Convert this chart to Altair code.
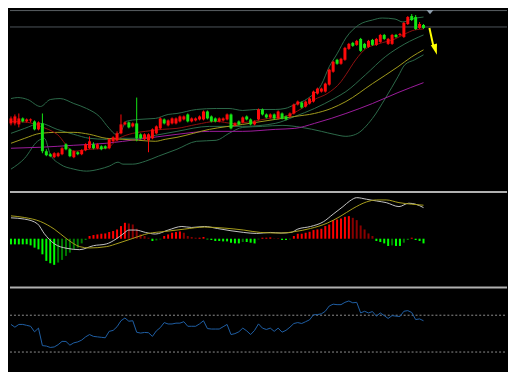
import altair as alt
import pandas as pd

# ---------------- data ----------------
opens = [78, 78, 77, 83, 80, 81, 80, 72, 78, 50, 47, 44, 45, 47, 57, 52, 44, 49, 47, 51,
         53, 57, 53, 55, 55, 53, 60, 61, 68, 77, 79, 75, 78, 67, 62, 61, 63, 68, 73, 82,
         76, 78, 78, 80, 82, 87, 80, 81, 82, 82, 90, 85, 83, 80, 81, 82, 87, 76, 80, 79,
         85, 82, 77, 82, 92, 87, 84, 87, 83, 88, 85, 85, 88, 97, 99, 95, 98, 100, 108, 110,
         110, 117, 130, 142, 138, 142, 153, 159, 157, 163, 158, 155, 162, 157, 160, 167, 158, 158, 167, 167,
         165, 178, 186, 185, 174, 177]
closes = [83, 85, 83, 80, 82, 82, 72, 79, 50, 46, 45, 48, 48, 53, 52, 45, 50, 47, 51, 57,
          60, 53, 57, 52, 53, 62, 64, 68, 77, 79, 74, 78, 63, 63, 67, 67, 72, 75, 83, 78,
          81, 83, 83, 85, 85, 80, 83, 83, 85, 90, 83, 80, 80, 83, 83, 87, 73, 78, 77, 84,
          82, 77, 80, 92, 87, 84, 87, 83, 90, 83, 82, 88, 97, 100, 94, 100, 103, 110, 113, 113,
          118, 132, 140, 138, 143, 154, 158, 156, 161, 151, 154, 161, 157, 163, 167, 163, 163, 167, 165, 168,
          179, 185, 182, 173, 178, 174]
highs = [85, 87, 88, 84, 83, 83, 81, 80, 88, 52, 48, 49, 49, 54, 58, 53, 51, 50, 52, 58,
         65, 59, 58, 56, 56, 63, 65, 70, 87, 80, 80, 79, 104, 68, 68, 68, 73, 76, 84, 83,
         82, 84, 84, 86, 86, 88, 84, 84, 86, 91, 91, 86, 84, 84, 84, 88, 88, 79, 81, 85,
         86, 83, 81, 93, 93, 88, 88, 88, 91, 89, 86, 89, 98, 101, 100, 101, 104, 111, 114, 114,
         119, 133, 141, 143, 144, 155, 159, 160, 162, 164, 159, 162, 163, 164, 168, 168, 164, 168, 168, 169,
         180, 186, 188, 187, 180, 178]
lows = [76, 76, 74, 79, 79, 79, 71, 71, 48, 45, 44, 43, 44, 46, 51, 44, 43, 46, 46, 50,
        52, 52, 52, 51, 52, 52, 59, 60, 67, 76, 73, 74, 60, 62, 61, 49, 62, 67, 72, 77,
        75, 77, 77, 79, 81, 79, 79, 80, 81, 81, 82, 79, 79, 79, 80, 81, 72, 75, 76, 78,
        81, 76, 76, 81, 86, 83, 83, 82, 82, 82, 81, 84, 87, 96, 93, 94, 97, 99, 107, 109,
        109, 116, 129, 137, 137, 141, 152, 155, 156, 150, 153, 154, 156, 156, 159, 162, 157, 157, 164, 166,
        164, 177, 181, 172, 173, 173]

bb_upper_i = [0, 1.75, 4.25, 7.5, 10, 12.5, 16, 19.25, 22.5, 25, 26.75, 28, 29.25, 32.5, 36.75, 40, 42.25,
              47.25, 52.25, 55.5, 59, 62.25, 67.25, 69.75, 72.25, 75.5, 79, 81, 83, 85.25, 88.5, 92, 94.5,
              97.75, 99.75, 102, 105]
bb_upper_v = [103, 104, 102, 95, 102, 103, 98, 93, 85, 73, 67, 70, 80, 82, 83, 87, 88,
              92, 93, 93, 91, 92, 92, 93, 97, 103, 117, 135, 148, 164, 177, 182, 184,
              183, 180, 183, 185]
bb_mid_i = [0, 3.5, 7.5, 11.75, 16, 20, 24.25, 26.75, 32.5, 36.75, 42.25, 50.5, 59, 67.25, 72.25, 77.25,
            82.25, 85.25, 90.25, 95.25, 100.25, 105]
bb_mid_v = [68, 73, 78, 72, 67, 63, 62, 63, 63, 66, 70, 75, 75, 78, 85, 93,
            103, 110, 127, 145, 158, 167]
bb_low_i = [0, 3.5, 6.75, 8.5, 10, 12.5, 16, 19.25, 22.5, 25, 27.25, 28.5, 31, 34.25, 37.5, 42.25, 47.25,
            52.25, 55.5, 59, 64, 69, 74, 79, 82.25, 85.25, 87.75, 92, 95.25, 98.5, 100.25, 102.75, 105]
bb_low_v = [32, 43, 60, 63, 47, 37, 32, 30, 32, 35, 39, 37, 37, 40, 45, 52, 60,
            61, 68, 74, 75, 76, 74, 70, 67, 65, 67, 83, 103, 125, 137, 142, 147]
ma_red_i = [0, 4.25, 7.5, 11.75, 16, 20, 24.25, 27.5, 31, 34.25, 38.5, 42.25, 47.25, 52.25, 56.5, 61.5,
            65.5, 69.75, 74, 77.25, 80.5, 84, 85.25, 87.75, 90.25, 93.5, 97.75, 100.25, 102.75, 105]
ma_red_v = [80, 79, 75, 67, 50, 52, 53, 63, 68, 70, 72, 73, 77, 80, 78, 80,
            83, 85, 93, 102, 108, 120, 127, 142, 153, 158, 163, 168, 172, 173]
ma_yel_i = [0, 3.5, 7.5, 11.75, 16, 20, 24.25, 28.5, 32.5, 36.75, 39.25, 42.25, 50.5, 59, 67.25, 72.25,
            77.25, 81.5, 85.25, 92, 98.5, 102, 105]
ma_yel_v = [58, 63, 68, 69, 69, 67, 63, 62, 61, 60, 62, 64, 72, 77, 82, 85,
            88, 93, 100, 118, 135, 145, 152]
ma_mag_i = [0, 7.5, 16, 24.25, 32.5, 42.25, 50.5, 59, 67.25, 72.25, 77.25, 81.5, 85.25, 92, 98.5, 105]
ma_mag_v = [53, 54, 56, 58, 62, 67, 70, 70, 72, 73, 78, 83, 88, 98, 109, 119]

price_line = 175

macd_hist = [-5.7, -5.7, -5.7, -5.7, -5.7, -6.7, -9, -10.7, -15.7, -22.3, -24.7, -26.3, -24, -21.3, -17.3, -14, -10.7, -9, -4.7, -1.3,
             2.7, 3.7, 4.3, 5, 5.3, 6.7, 7.7, 9.3, 12.7, 16, 15.3, 14.3, 10, 4.3, 2.7, 1, -2.3, -1.7, -0.7, 2.7,
             4.3, 6, 6.7, 7.3, 6, 2.7, 1.7, 1, 1, 1.7, -0.7, -1.3, -2.3, -2.3, -2.7, -2.7, -4, -4.7, -4.7, -3.3,
             -3.3, -4, -4.7, -0.7, 1, 1, 1.3, 0.3, 0.3, -1.3, -1.3, -0.7, 2.7, 5, 5, 6, 7, 8.7, 9.3, 10,
             12.7, 14.3, 18.7, 19.3, 20.3, 22, 22.7, 21, 18.7, 13.3, 9.3, 5.3, 2.7, -2.3, -3.3, -4.7, -7.3, -6.7, -7.3, -7.3,
             -4, -1.3, 1, -1.3, -2.3, -4.7]
macd_i = [0, 3.5, 6.75, 8.5, 11, 14.25, 17.5, 21, 24.25, 26.75, 28.5, 30, 31.75, 34.25, 36.75, 40, 43.5,
          46, 49.25, 52.5, 56, 59.25, 62.5, 66, 68.75, 71.25, 73, 76.25, 79.5, 82, 84.5, 86.25, 88,
          90.5, 93, 95.5, 98.75, 101.25, 103, 105]
macd_v = [21, 19.7, 15, 5, -5, -9.7, -11, -7, -5.3, -0.3, 4.7, 8.7, 8.7, 6.3, 4.7, 8.7, 12.3,
          11.3, 12.3, 10.3, 8, 6.3, 5.3, 6.3, 5.7, 6.3, 9.7, 12.3, 17, 24.7, 32.3, 38, 41.3,
          39.7, 38, 36.3, 32.3, 35.7, 34.7, 31.3]
signal_i = [0, 3.5, 7.5, 11, 14.25, 17.5, 20, 24.25, 27.5, 31, 35, 39.25, 44.25, 49.25, 54.25, 59.25,
            63.5, 68.75, 72, 76.25, 80.5, 83.75, 87, 90.5, 93, 95.5, 98.75, 102, 105]
signal_v = [23, 21.3, 17.3, 9.7, -0.3, -8, -9.3, -8, -4.3, 0.3, 5.3, 7.3, 9.7, 11.7, 10.7, 8.7,
            6.3, 5.7, 7, 10.3, 15.7, 22.3, 30.3, 37, 39, 39, 36.3, 34.7, 33.7]

rsi = [60, 57, 60, 60, 59, 58, 52, 56, 37, 36.5, 35, 35.5, 38, 41.6, 41.5, 37.5, 40, 41, 43, 46.5,
       49, 47, 46.5, 46, 45.5, 52.5, 53.5, 57.5, 64, 67, 63.5, 64, 51.5, 50.6, 51.3, 51, 47, 53, 56.5, 62,
       60.5, 60.5, 61.4, 61.4, 63, 58, 58, 58, 60.6, 64, 55.5, 55, 55, 55, 57.5, 60, 49, 50, 52, 56,
       53, 49, 53.5, 60.6, 56, 54.5, 56, 52.5, 56, 51.6, 53.6, 57, 61, 62, 61, 63, 65, 70.5, 70.7, 71.5,
       74.3, 80, 82, 81.5, 81.5, 84, 85.5, 83.5, 84, 72.5, 74.3, 72.5, 74, 69, 72.5, 69.6, 66.5, 69.6, 69, 68.6,
       74.3, 75, 73, 65.3, 66, 64]
rsi_levels = [70, 30]

# arrow (index, price) and marker
arrow_i, arrow_p, arrow_i2, arrow_p2 = [106.5], [174], [107.5], [156]
head_i, head_p = [108.0], [152.5]
mark_i, mark_p = [106.65], [190]

# ---------------- styling ----------------
W = 500
RED, GREEN = "#ff0a0a", "#14e614"
XS = alt.Scale(domain=[-0.25, 126.25], nice=False, zero=False, padding=0)
YM = alt.Scale(domain=[10, 192], nice=False, zero=False, padding=0)
YD = alt.Scale(domain=[-48, 48], nice=False, zero=False, padding=0)
YR = alt.Scale(domain=[9.5, 101.3], nice=False, zero=False, padding=0)

n = len(opens)
cdf = pd.DataFrame({"i": list(range(n)), "open": opens, "close": closes, "high": highs, "low": lows})
cdf["lo"] = cdf[["open", "close"]].min(axis=1)
cdf["hi"] = cdf[["open", "close"]].max(axis=1)

frames = []
for name, xs, vs in [("bb_up", bb_upper_i, bb_upper_v), ("bb_mid", bb_mid_i, bb_mid_v),
                     ("bb_low", bb_low_i, bb_low_v), ("ma_mag", ma_mag_i, ma_mag_v),
                     ("ma_yel", ma_yel_i, ma_yel_v), ("ma_red", ma_red_i, ma_red_v)]:
    frames.append(pd.DataFrame({"i": xs, "v": vs, "s": name}))
ldf = pd.concat(frames, ignore_index=True)
line_scale = alt.Scale(domain=["bb_up", "bb_mid", "bb_low", "ma_mag", "ma_yel", "ma_red"],
                       range=["#2c6a4a", "#2c6a4a", "#2c6a4a", "#9c1c9c", "#a09a1c", "#8e1010"])

candle_color = alt.condition("datum.close >= datum.open", alt.value(RED), alt.value(GREEN))
X = alt.X("i:Q", scale=XS, axis=None)

top_border = alt.Chart(pd.DataFrame({"a": [0]})).mark_rule(color="#5a5f64", strokeWidth=1).encode(
    y=alt.value(0.5), x=alt.value(0), x2=alt.value(W))
pline = alt.Chart(pd.DataFrame({"p": [price_line]})).mark_rule(color="#4e545b", strokeWidth=1).encode(
    y=alt.Y("p:Q", scale=YM, axis=None), x=alt.value(0), x2=alt.value(W))
lines = alt.Chart(ldf).mark_line(strokeWidth=1, interpolate="monotone").encode(
    x=X, y=alt.Y("v:Q", scale=YM, axis=None),
    stroke=alt.Stroke("s:N", scale=line_scale, legend=None), detail="s:N")
wicks = alt.Chart(cdf).mark_rule(strokeWidth=1).encode(
    x=X, y=alt.Y("low:Q", scale=YM, axis=None), y2="high:Q", color=candle_color)
bodies = alt.Chart(cdf).mark_bar(size=3).encode(
    x=X, y=alt.Y("lo:Q", scale=YM, axis=None), y2="hi:Q", color=candle_color)
adf = pd.DataFrame({"i": arrow_i, "p": arrow_p, "i2": arrow_i2, "p2": arrow_p2})
shaft = alt.Chart(adf).mark_rule(color="#ffff00", strokeWidth=2).encode(
    x=X, y=alt.Y("p:Q", scale=YM, axis=None), x2="i2:Q", y2="p2:Q")
head = alt.Chart(pd.DataFrame({"i": head_i, "p": head_p})).mark_point(
    shape="M-0.55,-0.9L0.55,-0.9L0,1Z", filled=True, size=134, angle=344, color="#ffff00", opacity=1).encode(
    x=X, y=alt.Y("p:Q", scale=YM, axis=None))
marker = alt.Chart(pd.DataFrame({"i": mark_i, "p": mark_p})).mark_point(
    shape="M-1,-0.6L1,-0.6L0,0.6Z", filled=True, size=50, color="#8c9aa8", opacity=1).encode(
    x=X, y=alt.Y("p:Q", scale=YM, axis=None))

main = alt.layer(top_border, pline, lines, wicks, bodies, shaft, head, marker).properties(width=W, height=182)

# MACD panel
hdf = pd.DataFrame({"i": list(range(len(macd_hist))), "v": macd_hist})
prev = hdf["v"].shift(1).fillna(hdf["v"])
hdf["c"] = [("#ff0000" if v >= p else "#8a0000") if v >= 0 else ("#00ff00" if v <= p else "#007a00")
            for v, p in zip(hdf["v"], prev)]
mdf = pd.concat([pd.DataFrame({"i": macd_i, "v": macd_v, "s": "macd"}),
                 pd.DataFrame({"i": signal_i, "v": signal_v, "s": "signal"})], ignore_index=True)
sep = alt.Chart(pd.DataFrame({"a": [0]})).mark_rule(color="#b0b0b0", strokeWidth=2).encode(
    y=alt.value(1), x=alt.value(0), x2=alt.value(W))
hist = alt.Chart(hdf).mark_bar(size=2).encode(
    x=X, y=alt.Y("v:Q", scale=YD, axis=None), y2=alt.datum(0), color=alt.Color("c:N", scale=None))
mlines = alt.Chart(mdf).mark_line(strokeWidth=1, interpolate="monotone").encode(
    x=X, y=alt.Y("v:Q", scale=YD, axis=None),
    stroke=alt.Stroke("s:N", scale=alt.Scale(domain=["macd", "signal"], range=["#c4c4c4", "#a89e1c"]),
                      legend=None), detail="s:N")
macd = alt.layer(sep, hist, mlines).properties(width=W, height=96)

# RSI panel
rdf = pd.DataFrame({"i": list(range(len(rsi))), "v": rsi})
levels = alt.Chart(pd.DataFrame({"v": rsi_levels})).mark_rule(
    color="#8e8e8e", strokeWidth=1, strokeDash=[2, 2]).encode(
    y=alt.Y("v:Q", scale=YR, axis=None), x=alt.value(0), x2=alt.value(W))
rline = alt.Chart(rdf).mark_line(strokeWidth=1, color="#1f5fa4").encode(
    x=X, y=alt.Y("v:Q", scale=YR, axis=None))
rsi_panel = alt.layer(sep, levels, rline).properties(width=W, height=85)

chart = alt.vconcat(main, macd, rsi_panel, spacing=0).resolve_scale(
    y="independent", color="independent", stroke="independent").properties(
    padding=0, background="#000000").configure_view(stroke=None)

chart.save("out.html", embed_options={"renderer": "svg", "actions": False})
